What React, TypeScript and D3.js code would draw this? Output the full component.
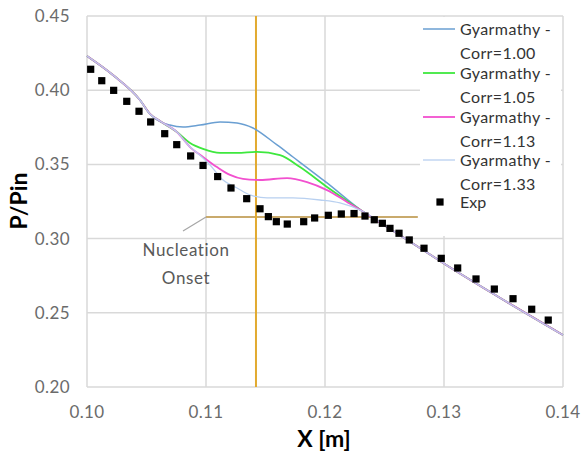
import React from "react";
import * as d3 from "d3";

const xTicks = [0.1, 0.11, 0.12, 0.13, 0.14];
const yTicks = [0.2, 0.25, 0.3, 0.35, 0.4, 0.45];

const headX = [0.1, 0.10218, 0.10445, 0.10529];
const headY = [0.423, 0.4102, 0.3934, 0.384];
const tailX = [0.12311, 0.12546, 0.12824, 0.12992, 0.13445, 0.14];
const tailY = [0.3186, 0.3065, 0.2923, 0.2836, 0.2613, 0.235];

const c100X = [0.10697, 0.10807, 0.1095, 0.11118, 0.11261, 0.11395, 0.11597, 0.11731, 0.12017];
const c100Y = [0.3765, 0.3752, 0.3765, 0.3786, 0.3779, 0.3745, 0.3631, 0.355, 0.3375];

const c105X = [0.10613, 0.10756, 0.10866, 0.10975, 0.11118, 0.11261, 0.11429, 0.11622, 0.1179, 0.12017];
const c105Y = [0.3792, 0.3718, 0.3644, 0.3604, 0.3577, 0.3577, 0.3584, 0.3563, 0.3482, 0.3348];

const c113X = [0.10613, 0.10756, 0.10866, 0.10975, 0.11092, 0.11202, 0.11311, 0.11454, 0.11681, 0.11849, 0.12017, 0.12185];
const c113Y = [0.3792, 0.3718, 0.3617, 0.355, 0.3482, 0.3429, 0.3402, 0.3395, 0.3408, 0.3381, 0.3327, 0.3247];

const c133X = [0.10613, 0.10756, 0.10866, 0.10908, 0.11034, 0.11143, 0.11261, 0.1137, 0.11513, 0.11731, 0.11958, 0.12126];
const c133Y = [0.3792, 0.3718, 0.3617, 0.359, 0.3496, 0.3395, 0.3341, 0.3294, 0.3274, 0.3274, 0.326, 0.324];

const expX = [0.10031, 0.10124, 0.10224, 0.10334, 0.10437, 0.10535, 0.10653, 0.10754, 0.10871, 0.10975, 0.11098, 0.1121, 0.11342, 0.11454, 0.11524, 0.11591, 0.11683, 0.11821, 0.11913, 0.12028, 0.12137, 0.12244, 0.12336, 0.12414, 0.12482, 0.12546, 0.12622, 0.12708, 0.12832, 0.12977, 0.13115, 0.13269, 0.13423, 0.1358, 0.13737, 0.13876];
const expY = [0.4141, 0.4064, 0.3999, 0.3925, 0.3858, 0.3786, 0.3707, 0.3633, 0.3557, 0.3493, 0.3418, 0.3341, 0.3269, 0.3201, 0.3148, 0.3114, 0.3098, 0.3114, 0.3139, 0.3157, 0.3166, 0.3169, 0.3152, 0.3127, 0.3103, 0.3069, 0.3036, 0.2991, 0.2935, 0.2867, 0.2802, 0.2728, 0.266, 0.2595, 0.2524, 0.2451];

const seriesNames = ["Corr=1.00", "Corr=1.05", "Corr=1.13", "Corr=1.33"];
const seriesColors = ["#6a9fd2", "#3ee83e", "#f250cf", "#b8d0f0"];
const seriesWidths = [1.5, 1.8, 1.8, 1.3];

const onsetX = 0.1142;
const onsetY = 0.3146;
const onsetLineX = [0.11, 0.1278];

export default function App() {
  const W = 582, H = 454;
  const x = d3.scaleLinear().domain([0.1, 0.14]).range([87, 563]);
  const y = d3.scaleLinear().domain([0.2, 0.45]).range([387, 16]);
  const line = d3
    .line<[number, number]>()
    .x((d) => x(d[0]))
    .y((d) => y(d[1]))
    .curve(d3.curveMonotoneX);

  const build = (xs: number[], ys: number[]) => {
    const pts: [number, number][] = [];
    headX.forEach((v, i) => pts.push([v, headY[i]]));
    xs.forEach((v, i) => pts.push([v, ys[i]]));
    tailX.forEach((v, i) => pts.push([v, tailY[i]]));
    return pts;
  };
  const series = [
    build(c100X, c100Y),
    build(c105X, c105Y),
    build(c113X, c113Y),
    build(c133X, c133Y),
  ];

  const font = "Lato, 'Open Sans', sans-serif";
  const grid = "#d9d9d9";
  const legendRowsY = [29, 73, 117, 160];

  return (
    <svg width={W} height={H} style={{ position: "absolute", left: 0, top: 0, background: "#fff" }}>
      <rect x={0} y={0} width={W} height={H} fill="#fff" />
      {xTicks.map((t) => (
        <line key={"gx" + t} x1={x(t)} x2={x(t)} y1={y(0.45)} y2={y(0.2)} stroke={grid} strokeWidth={1.5} />
      ))}
      {yTicks.map((t) => (
        <line key={"gy" + t} x1={x(0.1)} x2={x(0.14)} y1={y(t)} y2={y(t)} stroke={grid} strokeWidth={1.5} />
      ))}
      {xTicks.map((t) => (
        <text key={"tx" + t} x={x(t)} y={418} textAnchor="middle" fontFamily={font} fontSize={17} fill="#6b6b6b" letterSpacing={0.4}>
          {t.toFixed(2)}
        </text>
      ))}
      {yTicks.map((t) => (
        <text key={"ty" + t} x={70} y={y(t) + 6} textAnchor="end" fontFamily={font} fontSize={17} fill="#6b6b6b" letterSpacing={0.4}>
          {t.toFixed(2)}
        </text>
      ))}
      <text x={324} y={447} textAnchor="middle" fontFamily={font} fontSize={23} fontWeight="bold" fill="#000">
        X [m]
      </text>
      <text transform="translate(27,201) rotate(-90)" textAnchor="middle" fontFamily={font} fontSize={23} fontWeight="bold" fill="#000">
        P/Pin
      </text>
      {/* onset annotation */}
      <line x1={x(onsetLineX[0])} x2={x(onsetLineX[1])} y1={y(onsetY)} y2={y(onsetY)} stroke="#c9aa6c" strokeWidth={2} />
      <line x1={x(onsetX)} x2={x(onsetX)} y1={y(0.45)} y2={y(0.2)} stroke="#e2aa30" strokeWidth={2} />
      <line x1={183} y1={231} x2={x(onsetLineX[0])} y2={y(onsetY)} stroke="#a6a6a6" strokeWidth={1.2} />
      <text x={186} y={256} textAnchor="middle" fontFamily={font} fontSize={17} fill="#595959" letterSpacing={0.6}>
        Nucleation
      </text>
      <text x={186} y={284} textAnchor="middle" fontFamily={font} fontSize={17} fill="#595959" letterSpacing={0.6}>
        Onset
      </text>
      {series.map((s, i) => (
        <path key={"s" + i} d={line(s) || ""} fill="none" stroke={seriesColors[i]} strokeWidth={seriesWidths[i]} />
      ))}
      {expX.map((v, i) => (
        <rect key={"e" + i} x={x(v) - 3.6} y={y(expY[i]) - 3.6} width={7.2} height={7.2} fill="#000" />
      ))}
      {/* legend */}
      <rect x={420} y={17} width={141} height={219} fill="#fff" />
      {seriesNames.map((n, i) => (
        <g key={"l" + i}>
          <line x1={423} x2={455} y1={legendRowsY[i]} y2={legendRowsY[i]} stroke={seriesColors[i]} strokeWidth={seriesWidths[i]} />
          <text x={460} y={legendRowsY[i] + 5.5} fontFamily={font} fontSize={16} fill="#333" letterSpacing={0.4}>
            Gyarmathy -
          </text>
          <text x={460} y={legendRowsY[i] + 30} fontFamily={font} fontSize={16} fill="#333" letterSpacing={0.4}>
            {n}
          </text>
        </g>
      ))}
      <rect x={436.4} y={198.4} width={7.2} height={7.2} fill="#000" />
      <text x={460} y={208} fontFamily={font} fontSize={16} fill="#333">
        Exp
      </text>
    </svg>
  );
}
